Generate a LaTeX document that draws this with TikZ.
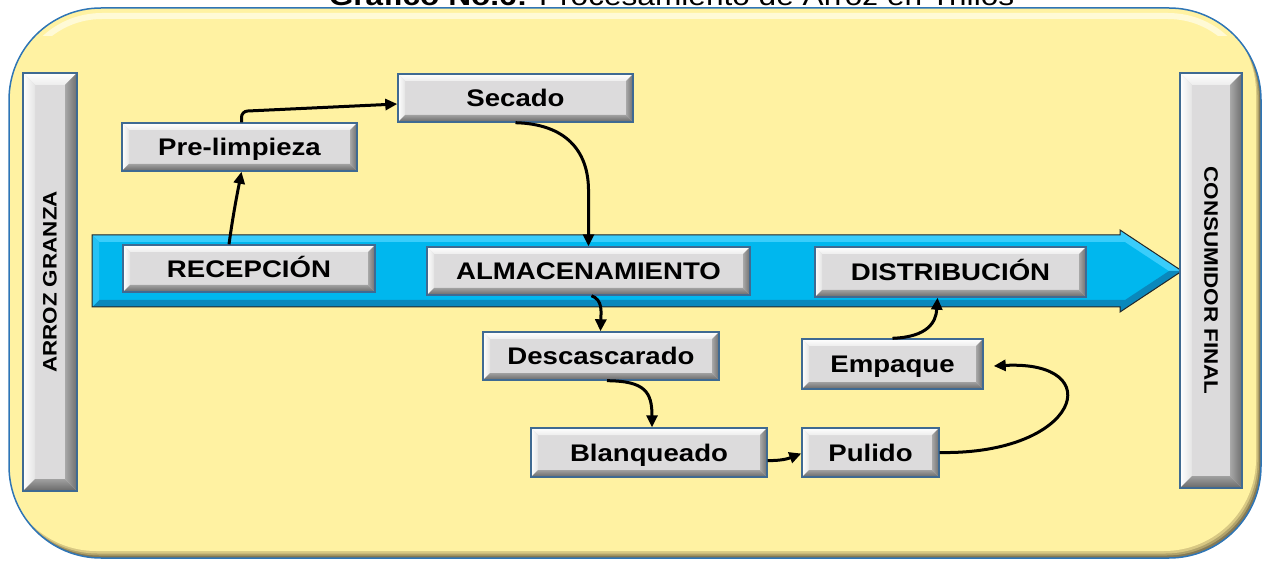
\documentclass[tikz,border=0pt]{standalone}
\usepackage{fontspec}
\usepackage{graphicx}
\setmainfont{Liberation Sans}
\newfontfamily\stretchfont{Liberation Sans}[FakeStretch=1.15]
\usetikzlibrary{arrows.meta}
\newcommand\bxfont{\stretchfont\bfseries\fontsize{24}{28}\selectfont}
\newcommand\barfont{\stretchfont\bfseries\fontsize{19.5}{22}\selectfont}
\newcommand\ttlfont{\stretchfont\fontsize{27.5}{30}\selectfont}
\definecolor{face}{HTML}{DCDBDC}
\definecolor{bord}{HTML}{3F6A92}
\definecolor{bevTopB}{HTML}{EDEDED}
\definecolor{bevLeftB}{HTML}{E4E4E4}
\definecolor{bevRightA}{HTML}{A8A8A8}
\definecolor{bevRightB}{HTML}{6E6E6E}
\definecolor{bevBotA}{HTML}{A0A0A0}
\definecolor{bevBotB}{HTML}{686868}
\definecolor{yellowF}{HTML}{FFF2A2}
\definecolor{shadowA}{HTML}{857A55}
\definecolor{shadowB}{HTML}{B0A26A}
\definecolor{shadowC}{HTML}{D8C883}
\definecolor{hilite}{HTML}{FFFAD6}
\definecolor{outerblue}{HTML}{2E75B6}
\definecolor{cyanF}{HTML}{00B7EE}
\definecolor{cyanTop}{HTML}{3ACDFB}
\definecolor{cyanBot}{HTML}{0A88BC}
\definecolor{cyanLeft}{HTML}{26C2F4}
\tikzset{
  bevelbox/.style={draw=bord, line width=1.4pt, fill=face, inner sep=0pt, text=black,
    path picture={
      \path (path picture bounding box.north west) coordinate (bbNW)
            (path picture bounding box.north east) coordinate (bbNE)
            (path picture bounding box.south west) coordinate (bbSW)
            (path picture bounding box.south east) coordinate (bbSE);
      \shade[top color=white, bottom color=bevTopB] (bbNW) -- (bbNE) -- ([shift={(-#1,-#1)}]bbNE) -- ([shift={(#1,-#1)}]bbNW) -- cycle;
      \shade[left color=white, right color=bevLeftB] (bbNW) -- ([shift={(#1,-#1)}]bbNW) -- ([shift={(#1,#1)}]bbSW) -- (bbSW) -- cycle;
      \shade[left color=bevRightA, right color=bevRightB] (bbNE) -- ([shift={(-#1,-#1)}]bbNE) -- ([shift={(-#1,#1)}]bbSE) -- (bbSE) -- cycle;
      \shade[top color=bevBotA, bottom color=bevBotB] (bbSW) -- ([shift={(#1,#1)}]bbSW) -- ([shift={(-#1,#1)}]bbSE) -- (bbSE) -- cycle;
    }},
  bevelbox/.default=7pt,
  box/.style={bevelbox, font=\bxfont, text height=17.2pt, text depth=0pt},
  bar/.style={bevelbox=12pt, font=\barfont},
  conn/.style={line width=3pt, draw=black, -{Triangle[length=12pt,width=11pt]}},
}
\begin{document}
\begin{tikzpicture}[x=1pt,y=-1pt]
\useasboundingbox (0,0) rectangle (1264,561);
\clip (0,0) rectangle (1264,561);
% outer rounded panel
\fill[shadowA, rounded corners=92pt] (9,8) rectangle (1261,558);
\begin{scope}
  \clip[rounded corners=92pt] (9,8) rectangle (1261,558);
  \fill[shadowB, rounded corners=92pt] (7,5.5) rectangle (1259,555.5);
  \fill[shadowC, rounded corners=92pt] (5.5,3.5) rectangle (1257.5,553.5);
  \fill[yellowF, rounded corners=92pt] (4,1) rectangle (1256,551);
  \begin{scope}
    \clip (0,0) rectangle (1264,36);
    \draw[hilite, line width=6pt, rounded corners=85pt] (17,16) rectangle (1253,540);
  \end{scope}
\end{scope}
\draw[outerblue, line width=1.5pt, rounded corners=92pt] (9,8) rectangle (1261,558);
% title (cut by the page top, as in the source)
\node[anchor=base, font=\ttlfont, inner sep=0pt] (title) at (671.5,6) {\textbf{Gráfico No.6:} Procesamiento de Arroz en Trillos};
% big cyan arrow
\fill[cyanF] (92,235) -- (1120,235) -- (1120,230) -- (1182,271) -- (1120,312) -- (1120,307) -- (92,307) -- cycle;
\fill[cyanTop] (92,235) -- (1120,235) -- (1120,230) -- (1182,271) -- (1169,271) -- (1125,242) -- (99,242) -- cycle;
\fill[cyanBot] (92,307) -- (1120,307) -- (1120,312) -- (1182,271) -- (1169,271) -- (1125,300) -- (99,300) -- cycle;
\fill[cyanLeft] (92,235) -- (99,242) -- (99,300) -- (92,307) -- cycle;
\draw[black!85, line width=1pt, line join=miter] (92,235) -- (1120,235) -- (1120,230) -- (1182,271) -- (1120,312) -- (1120,307) -- (92,307) -- cycle;
% side bars
\node[bar, minimum width=54pt, minimum height=418pt] (arz) at (50,282) {\rotatebox{90}{ARROZ GRANZA}};
\node[bar, minimum width=62pt, minimum height=415pt] (con) at (1211,280.5) {\rotatebox{-90}{CONSUMIDOR FINAL}};
% boxes
\node[box, minimum width=252pt, minimum height=47pt] (rec) at (249,268.5) {RECEPCIÓN};
\node[box, minimum width=323pt, minimum height=48pt] (alm) at (588.5,271) {ALMACENAMIENTO};
\node[box, minimum width=271pt, minimum height=50pt] (dis) at (950.5,272) {DISTRIBUCIÓN};
\node[box, minimum width=235pt, minimum height=48pt] (pre) at (239.5,147) {Pre-limpieza};
\node[box, minimum width=235pt, minimum height=48pt] (sec) at (515.5,98) {Secado};
\node[box, minimum width=236pt, minimum height=48pt] (des) at (601,356) {Descascarado};
\node[box, minimum width=236pt, minimum height=49pt] (bla) at (649,452.5) {Blanqueado};
\node[box, minimum width=137pt, minimum height=49pt] (pul) at (870.5,452.5) {Pulido};
\node[box, minimum width=181pt, minimum height=50pt] (emp) at (892.5,364) {Empaque};
% connectors
\draw[conn] ([xshift=-20pt]rec.north) .. controls (233,215) and (237,195) .. ([xshift=2pt]pre.south);
\draw[conn, rounded corners=6pt] ([xshift=2pt]pre.north) -- ([xshift=2pt,yshift=11pt]pre.north) -- ([yshift=-6pt]sec.west);
\draw[conn] (sec.south) .. controls (565,124) and (588,150) .. ([yshift=57pt]alm.north) -- (alm.north);
\draw[conn] ([xshift=3pt]alm.south) .. controls (603,300) and (601,312) .. ([xshift=-0.5pt]des.north);
\draw[conn] ([xshift=6pt]des.south) .. controls (645,381) and (652,392) .. ([xshift=3pt]bla.north);
\draw[conn] ([yshift=-8pt]bla.east) .. controls (785,461) and (792,457) .. ([yshift=-1pt]pul.west);
\draw[conn] (pul.east) .. controls (1080,455) and (1110,360) .. ([xshift=10pt,yshift=-2pt]emp.east);
\draw[conn] (emp.north) .. controls (928,337) and (936,322) .. ([xshift=-13pt]dis.south);
\end{tikzpicture}
\end{document}
